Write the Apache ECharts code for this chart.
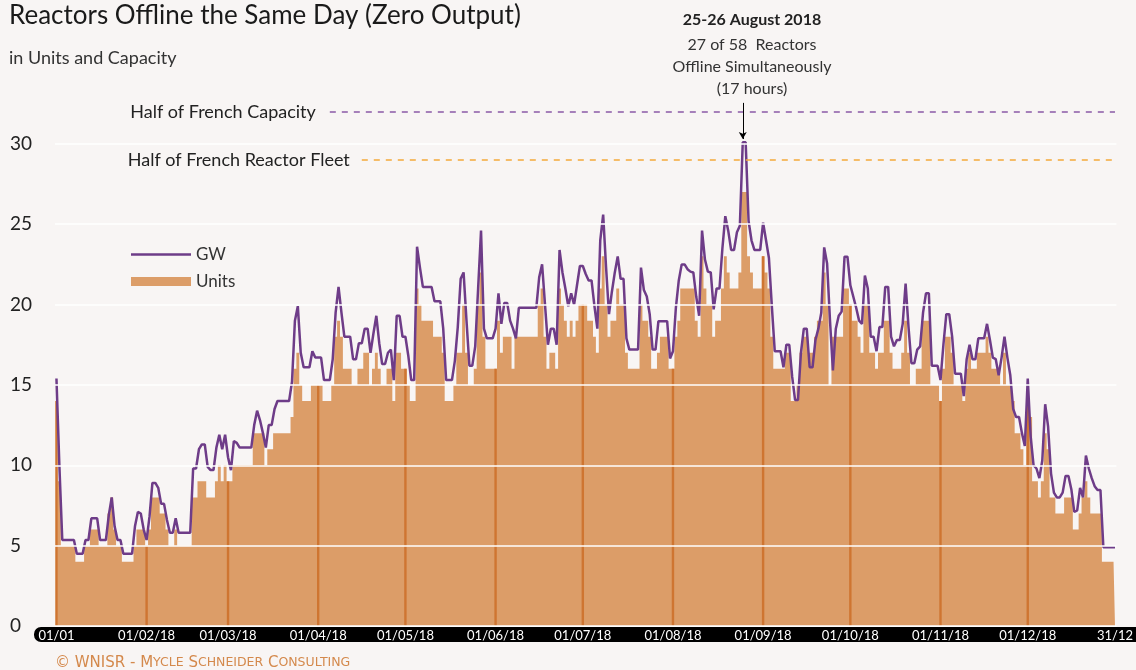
<!DOCTYPE html>
<html>
<head>
<meta charset="utf-8">
<title>Reactors Offline the Same Day</title>
<script src="https://cdn.jsdelivr.net/npm/echarts@6/dist/echarts.min.js"></script>
<style>
  html, body { margin: 0; padding: 0; background: #f8f5f4; }
  #chart { width: 1136px; height: 670px; }
</style>
</head>
<body>
<div id="chart"></div>
<script>
// units offline per day of 2018 (one row per month)
const units = [
  14,9,5,5,5,5,5,4,4,4,5,5,6,6,6,5,5,5,7,8,6,5,5,4,4,4,4,5,6,6,6,
  5,6,8,8,8,7,7,6,5,5,6,5,5,5,5,5,8,8,9,9,9,8,8,8,9,10,9,10,
  9,9,10,10,10,10,10,10,10,12,12,12,12,10,11,11,12,12,12,12,12,12,13,16,17,15,14,14,14,15,15,
  15,15,14,14,14,15,18,19,18,16,16,16,15,15,16,16,17,17,15,16,17,16,15,15,16,16,14,17,17,16,
  16,15,14,14,21,20,19,19,19,19,18,18,18,17,14,14,14,15,17,17,20,17,15,15,16,20,22,18,16,16,16,
  16,19,17,18,18,18,16,18,18,18,18,18,18,18,18,20,21,18,16,17,17,16,21,20,19,18,19,18,19,20,
  20,20,19,19,18,17,21,23,20,18,19,19,21,20,20,17,16,16,16,16,20,19,19,18,16,16,17,18,18,18,16,
  16,18,19,21,21,21,21,21,19,18,23,21,20,20,18,19,19,21,23,22,21,21,21,22,27,27,23,22,21,21,21,
  23,22,21,18,16,16,16,16,17,17,14,14,15,17,18,18,17,17,18,19,19,22,20,15,18,18,18,18,21,21,
  20,19,19,18,17,20,20,17,17,16,17,17,19,19,17,16,16,16,17,19,17,15,15,16,16,19,19,19,15,15,15,
  14,16,18,18,17,15,15,15,14,16,17,16,16,17,17,17,18,17,16,16,16,15,17,15,15,14,12,12,11,10,
  14,13,9,9,8,9,12,11,8,8,7,7,7,8,8,8,6,6,7,8,9,8,7,7,7,7,4,4,4,4,4
];

// capacity offline per day (GW)
const gw = [
  15.4,10.0,5.35,5.35,5.35,5.35,5.35,4.5,4.5,4.5,5.35,5.35,6.7,6.7,6.7,5.35,5.35,5.35,6.9,8.0,6.2,5.35,5.35,4.5,4.5,4.5,4.5,6.2,7.1,7.0,6.0,
  5.35,6.8,8.9,8.9,8.6,7.6,7.6,6.6,5.8,5.8,6.7,5.8,5.8,5.8,5.8,5.8,9.8,9.8,11.0,11.3,11.3,9.9,9.7,9.7,11.1,11.9,11.0,11.9,
  10.5,9.7,11.5,11.4,11.1,11.1,11.1,11.1,11.1,12.5,13.4,12.8,12.0,11.1,12.5,12.5,13.5,14.0,14.0,14.0,14.0,14.0,15.2,19.0,19.9,17.0,16.1,16.1,16.1,17.1,16.7,
  16.7,16.7,15.3,15.3,15.3,16.6,19.5,21.1,19.5,18.0,18.0,18.0,16.6,16.6,17.6,17.6,18.5,18.5,17.0,18.2,19.3,17.6,16.3,16.3,17.0,17.2,15.3,19.3,19.3,18.0,
  18.0,16.8,15.3,15.3,23.6,22.3,21.1,21.1,21.1,21.1,20.2,20.2,20.2,18.5,15.3,15.3,15.3,16.5,18.6,21.6,22.0,19.0,16.2,16.2,17.4,21.0,24.6,18.5,17.9,17.9,17.9,
  18.5,20.7,18.8,20.1,20.1,19.0,18.5,17.9,19.8,19.8,19.8,19.8,19.8,19.8,19.8,21.7,22.5,20.0,17.5,18.5,18.5,17.5,23.4,22.0,21.0,19.9,20.7,20.0,21.2,22.4,
  22.4,21.9,21.5,21.5,19.9,18.5,24.0,25.6,22.3,19.4,20.8,22.0,23.0,21.6,21.6,17.9,17.2,17.2,17.2,17.2,22.3,20.9,20.5,19.4,17.2,17.2,18.97,18.97,18.97,18.97,16.65,
  17.1,19.8,21.5,22.5,22.5,22.2,22.05,22.0,20.5,19.3,24.6,22.8,22.05,22.0,19.7,21.0,21.0,23.5,25.5,24.6,23.4,23.4,24.5,24.9,30.1,30.1,25.2,24.0,23.4,23.4,23.4,
  25.1,24.0,22.9,19.9,17.1,17.1,17.1,16.1,17.5,17.5,15.5,14.06,14.06,17.0,18.5,18.5,16.1,16.1,17.8,18.5,19.5,23.56,22.56,19.0,15.9,18.5,19.3,19.56,22.98,22.98,
  21.2,20.5,19.8,19.0,18.8,21.8,21.0,18.0,18.0,17.1,18.6,18.6,21.1,21.1,18.0,17.4,17.8,17.8,18.8,21.3,18.6,16.35,16.35,17.2,17.4,19.5,20.7,20.7,16.2,16.2,16.2,
  15.3,17.5,19.4,19.4,18.0,15.7,15.7,15.7,14.3,16.6,17.5,16.6,16.6,17.9,17.9,17.9,18.8,17.8,16.7,16.6,15.6,16.7,18.0,16.7,15.6,13.5,13.0,13.0,12.0,11.2,
  15.4,11.8,10.0,9.8,9.2,10.3,13.8,12.4,9.5,8.3,8.0,8.0,8.3,9.33,9.33,8.5,7.1,7.2,8.6,8.0,10.6,9.8,9.2,8.7,8.46,8.46,4.9,4.9,4.9,4.9,4.9
];

// x-axis ticks (day index in the year) and their labels
const tickDays = [0, 31, 59, 90, 120, 151, 181, 212, 243, 273, 304, 334, 364];
const tickLabels = ['01/01', '01/02/18', '01/03/18', '01/04/18', '01/05/18', '01/06/18',
  '01/07/18', '01/08/18', '01/09/18', '01/10/18', '01/11/18', '01/12/18', '31/12'];
const monthStarts = tickDays.slice(0, 12);

const halfCapacityGW = 32;
const halfFleetUnits = 29;
const peakDay = 236;

// one category per day of 2018
const days = [];
for (let i = 0; i < units.length; i++) {
  const d = new Date(2018, 0, 1 + i);
  days.push(String(d.getDate()).padStart(2, '0') + '/' + String(d.getMonth() + 1).padStart(2, '0') + '/18');
}

const FONT = 'Lato, "Noto Sans", sans-serif';
const PURPLE = '#6e3c88';
const ORANGE = '#dc9d68';
const chart = echarts.init(document.getElementById('chart'));

chart.setOption({
  backgroundColor: '#f8f5f4',
  animation: false,
  textStyle: { fontFamily: FONT },
  title: {
    text: 'Reactors Offline the Same Day (Zero Output)',
    subtext: 'in Units and Capacity',
    left: 4,
    top: -2,
    itemGap: 20,
    textStyle: { fontFamily: FONT, fontSize: 26, fontWeight: 'normal', color: '#1a1a1a' },
    subtextStyle: { fontFamily: FONT, fontSize: 18, color: '#333' }
  },
  legend: {
    orient: 'vertical',
    left: 126,
    top: 241,
    itemWidth: 60,
    itemHeight: 9,
    itemGap: 10,
    selectedMode: false,
    textStyle: { fontSize: 17, color: '#333', padding: [0, 0, 0, 0] },
    data: [
      { name: 'GW', icon: 'path://M0,0L60,0L60,2.6L0,2.6Z', itemStyle: { color: PURPLE } },
      { name: 'Units', icon: 'rect', itemStyle: { color: ORANGE } }
    ]
  },
  grid: { left: 55, right: 16, top: 63.5, bottom: 44 },
  xAxis: {
    type: 'category',
    data: days,
    axisLine: { show: false },
    axisTick: { show: false },
    splitLine: { show: false },
    axisLabel: {
      interval: (idx) => tickDays.indexOf(idx) >= 0,
      formatter: (val, idx) => tickLabels[tickDays.indexOf(idx)],
      color: '#fff',
      fontSize: 13,
      margin: 3
    }
  },
  yAxis: {
    type: 'value',
    min: 0,
    max: 35,
    interval: 5,
    z: 5,
    axisLine: { show: false },
    axisTick: { show: false },
    axisLabel: { align: 'left', margin: 45, fontSize: 19, color: '#222', showMaxLabel: false },
    splitLine: { showMaxLine: false, lineStyle: { color: '#ffffff', width: 1.5 } }
  },
  graphic: [
    { type: 'rect', z: -1, shape: { x: 34, y: 627, width: 1120, height: 15, r: [7, 0, 0, 7] }, style: { fill: '#000' } },
    { type: 'text', z: 10, x: 752, y: 20, style: { text: '25-26 August 2018', font: 'bold 16px ' + FONT, fill: '#222', align: 'center', verticalAlign: 'middle' } },
    { type: 'text', z: 10, x: 752, y: 34, style: { text: '27 of 58  Reactors\nOffline Simultaneously\n(17 hours)', font: '16px ' + FONT, lineHeight: 22, fill: '#333', align: 'center', verticalAlign: 'top' } },
    {
      type: 'text', z: 10, x: 55, y: 663,
      style: {
        text: '© WNISR - M{s|YCLE} S{s|CHNEIDER} C{s|ONSULTING}',
        font: '15px "DejaVu Sans", sans-serif', fill: '#d4894c', verticalAlign: 'middle',
        rich: { s: { fontSize: 12.5, fill: '#d4894c', fontFamily: '"DejaVu Sans", sans-serif' } }
      }
    }
  ],
  series: [
    {
      name: 'Units',
      type: 'line',
      step: 'middle',
      data: units,
      symbol: 'none',
      z: 1,
      lineStyle: { width: 0, color: ORANGE },
      itemStyle: { color: ORANGE },
      areaStyle: { color: ORANGE, opacity: 1 },
      markLine: {
        silent: true,
        symbol: 'none',
        data: [
          [
            {
              coord: [days[105], halfFleetUnits],
              lineStyle: { color: '#f4a93a', type: [6, 6], width: 1.5 },
              label: { show: true, position: 'start', distance: 12, formatter: 'Half of French Reactor Fleet', fontSize: 18, color: '#222' }
            },
            { coord: [days[364], halfFleetUnits] }
          ]
        ]
      }
    },
    {
      name: 'Month start',
      type: 'bar',
      barWidth: 2.4,
      z: 2,
      data: units.map((v, i) => (monthStarts.indexOf(i) >= 0 ? v : '-')),
      itemStyle: { color: '#cf7531' }
    },
    {
      name: 'GW',
      type: 'line',
      data: gw,
      symbol: 'none',
      z: 3,
      lineStyle: { width: 2.5, color: PURPLE },
      itemStyle: { color: PURPLE },
      markLine: {
        silent: true,
        symbol: 'none',
        data: [
          [
            {
              coord: [days[94], halfCapacityGW],
              lineStyle: { color: '#8a5aa6', type: [6, 6], width: 1.5 },
              label: { show: true, position: 'start', distance: 14, formatter: 'Half of French Capacity', fontSize: 18, color: '#222' }
            },
            { coord: [days[364], halfCapacityGW] }
          ],
          [
            {
              coord: [days[peakDay], 32.55],
              symbol: 'none',
              lineStyle: { color: '#000', type: 'solid', width: 1 },
              label: { show: false }
            },
            { coord: [days[peakDay], 30.3], symbol: 'arrow', symbolSize: [6, 7] }
          ]
        ]
      }
    }
  ]
});
</script>
</body>
</html>
